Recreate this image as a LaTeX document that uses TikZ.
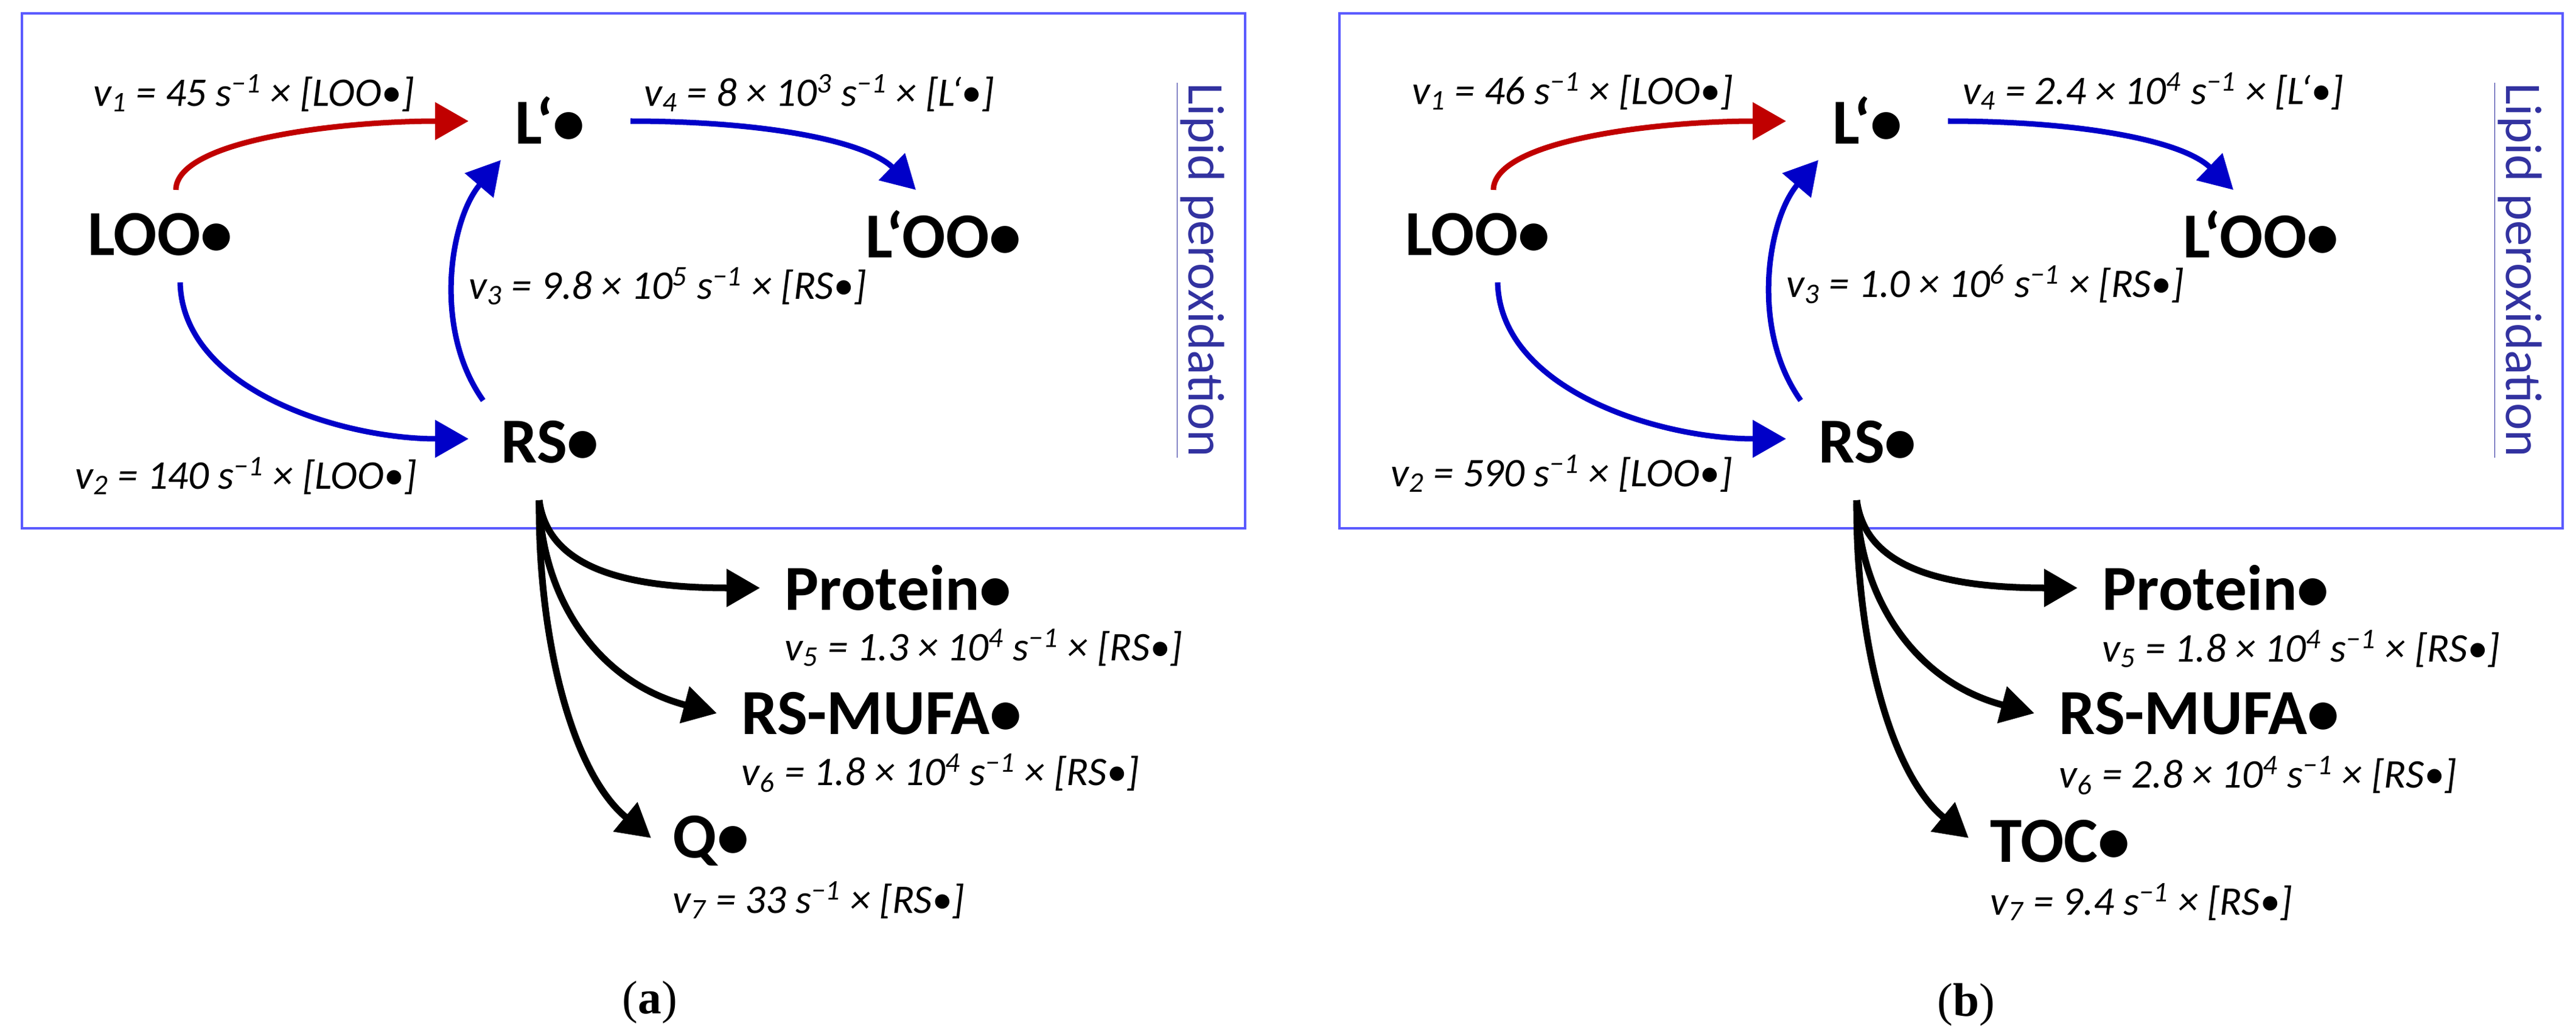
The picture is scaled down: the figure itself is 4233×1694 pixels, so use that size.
\documentclass[tikz,border=0pt]{standalone}
\usepackage{fontspec}
\setmainfont{Carlito}
\newfontfamily\capfont{Liberation Serif}
\usetikzlibrary{arrows.meta}
\definecolor{rred}{RGB}{192,0,0}
\definecolor{bblue}{RGB}{0,0,200}
\definecolor{boxblue}{RGB}{90,90,255}
\definecolor{lipid}{RGB}{50,50,160}
\newcommand{\mysup}[1]{\textsuperscript{#1}}
\newcommand{\mysub}[1]{\textsubscript{#1}}
\begin{document}
\begin{tikzpicture}[x=0.01cm,y=-0.01cm,
  spec/.style={font=\fontsize{30}{32}\selectfont\bfseries, inner sep=0pt},
  rate/.style={font=\fontsize{19}{21}\selectfont\itshape, inner sep=0pt},
  frame/.style={draw=boxblue, line width=1.2pt},
  lip/.style={font=\fontsize{24}{26}\selectfont, text=lipid, rotate=-90, inner sep=0pt},
  arr/.style={line width=0.1cm, -{Triangle[length=0.55cm,width=0.6cm]}},
  redarr/.style={arr, draw=rred, line width=0.09cm},
  bluearr/.style={arr, draw=bblue, line width=0.09cm},
  blkarr/.style={arr, draw=black, line width=0.11cm},
  figcap/.style={font=\capfont\fontsize{22}{24}\selectfont, inner sep=0pt}]
\useasboundingbox (0,0) rectangle (4233,1694);
\foreach \dx/\p in {0/a,2165/b}{
\begin{scope}[xshift=\dx*0.01cm]
  \node[frame, minimum width=2010*0.01cm, minimum height=846*0.01cm, anchor=north west] (box\p) at (34,20) {};
  \node[spec] (loo\p) at (263,385) {LOO•};
  \node[spec] (l\p) at (904,198) {L‘•};
  \node[spec] (lo\p) at (1550,385) {L‘OO•};
  \node[spec] (rs\p) at (904,726) {RS•};
  \node[lip] (lp\p) at (1972,444) {\underline{Lipid peroxidation}};
  \coordinate (s1\p) at (289,312);
  \coordinate (t1\p) at (770,199);
  \coordinate (s4\p) at (1036,199);
  \coordinate (t4\p) at (1505,312);
  \coordinate (s2\p) at (296,464);
  \coordinate (t2\p) at (770,721);
  \coordinate (s3\p) at (794,658);
  \coordinate (t3\p) at (823,263);
  \coordinate (br\p) at (886,822);
  \draw[redarr] (s1\p) .. controls (290,230) and (560,199) .. (t1\p);
  \draw[bluearr] (s4\p) .. controls (1250,199) and (1420,230) .. (t4\p);
  \draw[bluearr] (s2\p) .. controls (300,640) and (560,721) .. (t2\p);
  \draw[bluearr] (s3\p) .. controls (710,540) and (740,360) .. (t3\p);
  \node[spec, anchor=west] (pr\p) at (1289,966) {Protein•};
  \node[spec, anchor=west] (mu\p) at (1218,1172) {RS-MUFA•};
  \node[spec, anchor=west] (q\p) at (1105,1382) {\ifnum\dx=0 Q•\else TOC•\fi};
  \draw[blkarr] (br\p) .. controls (900,930) and (1020,966) .. ([xshift=-0.4cm]pr\p.west);
  \draw[blkarr] (br\p) .. controls (890,980) and (980,1120) .. ([xshift=-0.4cm]mu\p.west);
  \draw[blkarr] (br\p) .. controls (884,1050) and (940,1270) .. ([xshift=-0.35cm,yshift=0.05cm]q\p.west);
\end{scope}}
% panel a labels
\node[rate] (v1a) at (417,153) {v\mysub{1} = 45 s\mysup{−1} × [LOO•]};
\node[rate] (v4a) at (1346,153) {v\mysub{4} = 8 × 10\mysup{3} s\mysup{−1} × [L‘•]};
\node[rate] (v3a) at (1097,470) {v\mysub{3} = 9.8 × 10\mysup{5} s\mysup{−1} × [RS•]};
\node[rate] (v2a) at (404,782) {v\mysub{2} = 140 s\mysup{−1} × [LOO•]};
\node[rate, anchor=west] (v5a) at (1289,1064) {v\mysub{5} = 1.3 × 10\mysup{4} s\mysup{−1} × [RS•]};
\node[rate, anchor=west] (v6a) at (1218,1270) {v\mysub{6} = 1.8 × 10\mysup{4} s\mysup{−1} × [RS•]};
\node[rate, anchor=west] (v7a) at (1105,1479) {v\mysub{7} = 33 s\mysup{−1} × [RS•]};
\node[figcap] (capa) at (1068,1647) {(\textbf{a})};
% panel b labels
\node[rate] (v1b) at (2584,150) {v\mysub{1} = 46 s\mysup{−1} × [LOO•]};
\node[rate] (v4b) at (3538,150) {v\mysub{4} = 2.4 × 10\mysup{4} s\mysup{−1} × [L‘•]};
\node[rate] (v3b) at (3262,467) {v\mysub{3} = 1.0 × 10\mysup{6} s\mysup{−1} × [RS•]};
\node[rate] (v2b) at (2566,778) {v\mysub{2} = 590 s\mysup{−1} × [LOO•]};
\node[rate, anchor=west] (v5b) at (3454,1066) {v\mysub{5} = 1.8 × 10\mysup{4} s\mysup{−1} × [RS•]};
\node[rate, anchor=west] (v6b) at (3383,1274) {v\mysub{6} = 2.8 × 10\mysup{4} s\mysup{−1} × [RS•]};
\node[rate, anchor=west] (v7b) at (3270,1482) {v\mysub{7} = 9.4 s\mysup{−1} × [RS•]};
\node[figcap] (capb) at (3231,1651) {(\textbf{b})};
\end{tikzpicture}
\end{document}
